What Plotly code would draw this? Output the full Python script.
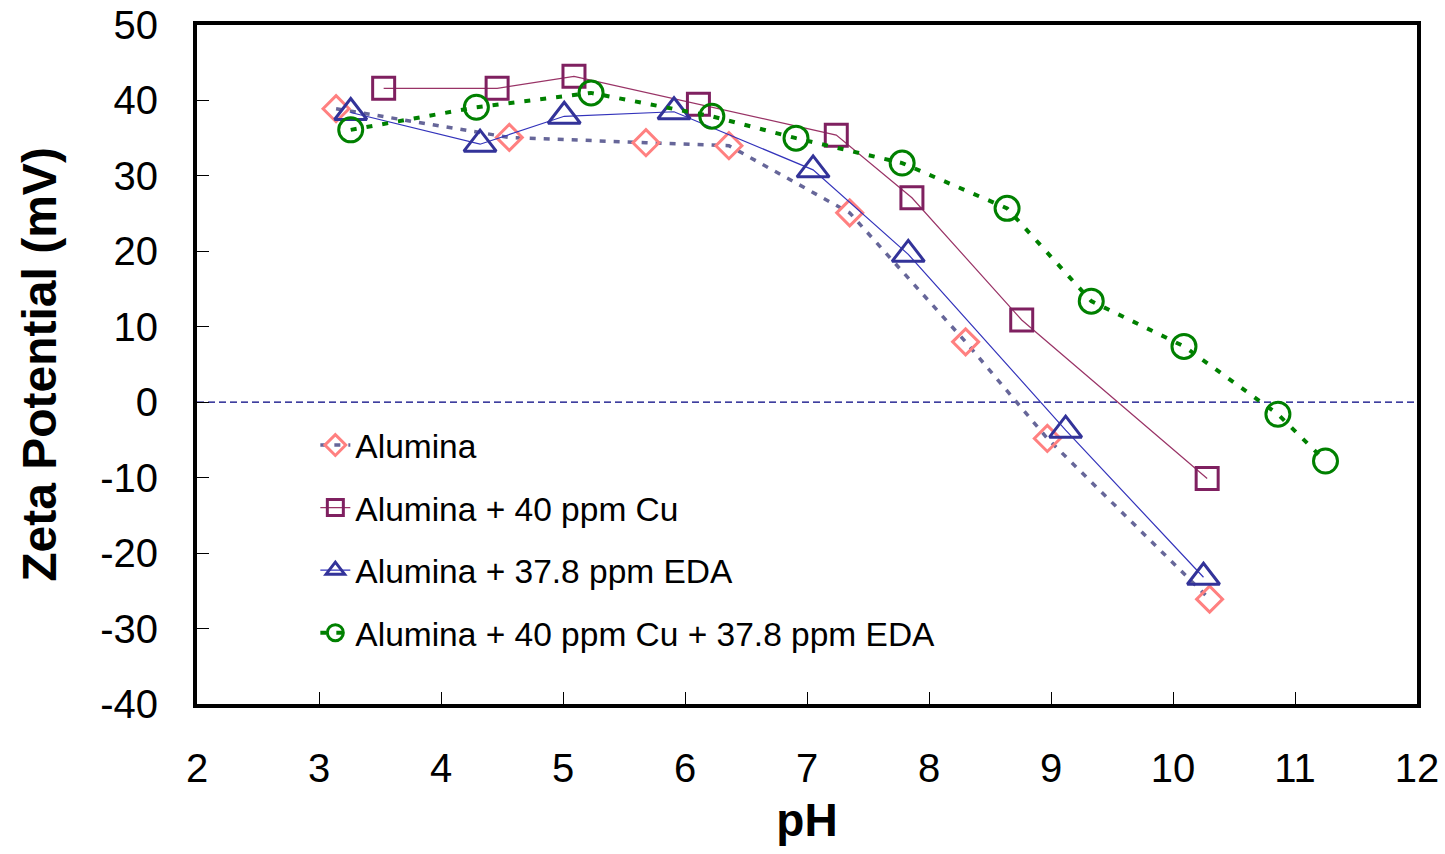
import plotly.graph_objects as go

# ---- data ----
ph_alumina = [3.14, 4.56, 5.68, 6.36, 7.35, 8.30, 8.97, 10.30]
zp_alumina = [38.9, 35.1, 34.4, 34.0, 25.1, 8.0, -4.8, -26.1]

ph_cu = [3.53, 4.46, 5.09, 6.11, 7.24, 7.86, 8.76, 10.28]
zp_cu = [41.6, 41.6, 43.2, 39.5, 35.4, 27.1, 10.9, -10.1]

ph_eda = [3.26, 4.32, 5.01, 5.91, 7.05, 7.83, 9.12, 10.25]
zp_eda = [38.4, 34.2, 37.9, 38.5, 30.8, 19.6, -3.7, -23.2]

ph_cu_eda = [3.26, 4.29, 5.23, 6.22, 6.91, 7.78, 8.64, 9.33, 10.09, 10.86, 11.25]
zp_cu_eda = [36.1, 39.1, 41.0, 37.9, 35.0, 31.7, 25.7, 13.4, 7.4, -1.6, -7.8]

names = ["Alumina", "Alumina + 40 ppm Cu", "Alumina + 37.8 ppm EDA",
         "Alumina + 40 ppm Cu + 37.8 ppm EDA"]
x_ticks = list(range(2, 13))
y_ticks = list(range(-40, 51, 10))

FONT = "Liberation Sans, Arial, sans-serif"

fig = go.Figure()

fig.add_trace(go.Scatter(
    x=ph_alumina, y=zp_alumina, name=names[0], mode="lines+markers",
    legendgroup="a",
    line=dict(color="#666699", width=3.5, dash="6px,8px"),
    marker=dict(symbol="diamond-open", size=20, color="#FF8080",
                line=dict(color="#FF8080", width=3)),
))
fig.add_trace(go.Scatter(
    x=ph_cu, y=zp_cu, name=names[1], mode="lines+markers",
    legendgroup="b",
    line=dict(color="#993366", width=1.2),
    marker=dict(symbol="square-open", size=22, color="#7F2060",
                line=dict(color="#7F2060", width=3)),
))
fig.add_trace(go.Scatter(
    x=ph_eda, y=zp_eda, name=names[2], mode="lines+markers",
    legendgroup="c",
    line=dict(color="#3333BB", width=1.2),
    marker=dict(symbol="triangle-up-open", size=28, color="#333399",
                line=dict(color="#333399", width=3)),
))
fig.add_trace(go.Scatter(
    x=ph_cu_eda, y=zp_cu_eda, name=names[3], mode="lines+markers",
    legendgroup="d",
    line=dict(color="#008000", width=4, dash="6px,10px"),
    marker=dict(symbol="circle-open", size=24, color="#008000",
                line=dict(color="#008000", width=3)),
))

fig.add_shape(type="line", xref="x domain", yref="y", x0=0, x1=1, y0=0, y1=0,
              line=dict(color="#000080", width=1.2, dash="7px,4px"), layer="below")

fig.update_layout(
    width=1445, height=854,
    margin=dict(l=197, r=28, t=25, b=150, pad=0),
    paper_bgcolor="white", plot_bgcolor="white",
    font=dict(family=FONT, color="black"),
    showlegend=True,
    legend=dict(x=0.097, y=0.423, xanchor="left", yanchor="top",
                font=dict(size=33.5, family=FONT, color="black"),
                bgcolor="rgba(0,0,0,0)", tracegroupgap=16,
                traceorder="grouped"),
    xaxis=dict(
        range=[2, 12], tickvals=x_ticks, ticktext=[str(v) for v in x_ticks],
        showgrid=False, zeroline=False, automargin=False,
        showline=True, linecolor="black", linewidth=4, mirror=True,
        ticks="inside", ticklen=12, tickwidth=1, tickcolor="black",
        tickfont=dict(size=40, family=FONT),
        ticklabelstandoff=26,
        title=dict(text="<b>pH</b>", font=dict(size=46, family=FONT), standoff=16),
    ),
    yaxis=dict(
        range=[-40, 50], tickvals=y_ticks, ticktext=[str(v) for v in y_ticks],
        showgrid=False, zeroline=False, automargin=False,
        showline=True, linecolor="black", linewidth=4, mirror=True,
        ticks="inside", ticklen=12, tickwidth=1, tickcolor="black",
        tickfont=dict(size=40, family=FONT),
        ticklabelstandoff=27,
        title=dict(text="<b>Zeta Potential (mV)</b>", font=dict(size=48, family=FONT), standoff=29),
    ),
)

fig.write_html("out.html")
